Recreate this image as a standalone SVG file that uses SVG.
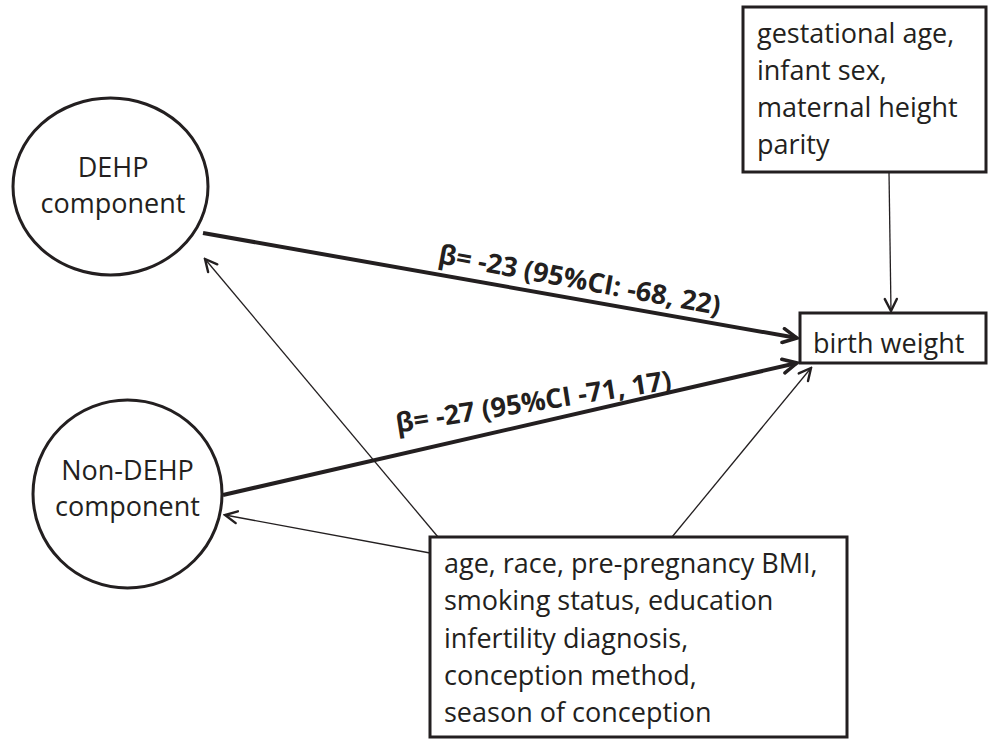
<svg xmlns="http://www.w3.org/2000/svg" width="988" height="739" viewBox="0 0 988 739">
<defs>
<style>
.shape{fill:#fff;stroke:#231f20;stroke-width:3}
.t{font-family:"Open Sans","Noto Sans","DejaVu Sans",sans-serif;font-size:27px;fill:#231f20}
.lbl{font-family:"Open Sans","Noto Sans","DejaVu Sans",sans-serif;font-size:27px;font-weight:bold;fill:#231f20}
.thick{fill:none;stroke:#231f20;stroke-width:4;marker-end:url(#headThick)}
.thin{fill:none;stroke:#231f20;stroke-width:1.3;marker-end:url(#headThin)}
</style>
<marker id="headThick" viewBox="0 0 18 18" refX="16" refY="9" markerWidth="18" markerHeight="18" markerUnits="userSpaceOnUse" orient="auto">
<path d="M2,2 L16,9 L2,16" fill="none" stroke="#231f20" stroke-width="3.5" stroke-linecap="round" stroke-linejoin="miter"/>
</marker>
<marker id="headThin" viewBox="0 0 16 16" refX="14" refY="8" markerWidth="16" markerHeight="16" markerUnits="userSpaceOnUse" orient="auto">
<path d="M2,2 L14,8 L2,14" fill="none" stroke="#231f20" stroke-width="2.4" stroke-linecap="round"/>
</marker>
</defs>
<rect width="988" height="739" fill="#fff"/>
<g id="connectors">
<path class="thick" d="M203,233 L797,338"/>
<path class="thick" d="M223,495 L797,363"/>
<path class="thin" d="M889,172 L891,311"/>
<path class="thin" d="M438,537 L205,259"/>
<path class="thin" d="M430,553 L225,515"/>
<path class="thin" d="M672,537 L811,368"/>
<text class="lbl" x="578" y="289" text-anchor="middle" transform="rotate(10.5 578 289)">β= -23 (95%CI: -68, 22)</text>
<text class="lbl" x="535" y="411" text-anchor="middle" transform="rotate(-9 535 411)">β= -27 (95%CI -71, 17)</text>
</g>
<g id="dehp">
<ellipse class="shape" cx="110.5" cy="186.5" rx="97.5" ry="88.5"/>
<text class="t" x="113" y="177" text-anchor="middle">DEHP</text>
<text class="t" x="113" y="213" text-anchor="middle">component</text>
</g>
<g id="nondehp">
<ellipse class="shape" cx="127.5" cy="494" rx="94.5" ry="94"/>
<text class="t" x="127.5" y="480" text-anchor="middle">Non-DEHP</text>
<text class="t" x="127.5" y="516" text-anchor="middle">component</text>
</g>
<g id="covariates-outcome">
<rect class="shape" x="743" y="7" width="243" height="165"/>
<text class="t" x="757" y="43">gestational age,</text>
<text class="t" x="757" y="80">infant sex,</text>
<text class="t" x="757" y="117">maternal height</text>
<text class="t" x="757" y="154">parity</text>
</g>
<g id="birthweight">
<rect class="shape" x="800" y="313" width="186" height="50"/>
<text class="t" x="813" y="353">birth weight</text>
</g>
<g id="confounders">
<rect class="shape" x="430" y="537" width="417" height="200"/>
<text class="t" x="444" y="573">age, race, pre-pregnancy BMI,</text>
<text class="t" x="444" y="610">smoking status, education</text>
<text class="t" x="444" y="648">infertility diagnosis,</text>
<text class="t" x="444" y="685">conception method,</text>
<text class="t" x="444" y="722">season of conception</text>
</g>
</svg>
